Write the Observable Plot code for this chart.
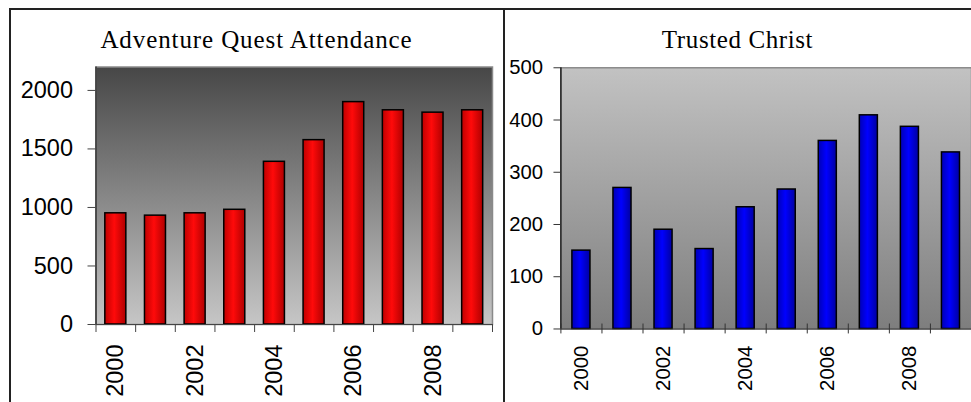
<!DOCTYPE html>
<html>
<head>
<meta charset="utf-8">
<script src="https://cdn.jsdelivr.net/npm/d3@7"></script>
<script src="https://cdn.jsdelivr.net/npm/@observablehq/plot@0.6"></script>
<style>
  body { margin: 0; background: #fff; }
  #wrap { position: relative; width: 971px; height: 402px; overflow: hidden; background: #fff; }
  .title { position: absolute; top: 27px; height: 25px; line-height: 25px; font-family: "Liberation Serif", "Times New Roman", serif; font-size: 25px; letter-spacing: 0.6px; color: #000; text-align: center; white-space: nowrap; }
  .panel { position: absolute; top: 0; }
  .line { position: absolute; background: #222; }
</style>
</head>
<body>
<div id="wrap">
  <div id="left" class="panel" style="left:0"></div>
  <div id="right" class="panel" style="left:504px"></div>
  <div class="title" style="left:10px;width:493px;letter-spacing:0.9px">Adventure Quest Attendance</div>
  <div class="title" style="left:504px;width:467px">Trusted Christ</div>
  <div class="line" style="left:10px;top:8px;width:961px;height:2px"></div>
  <div class="line" style="left:9px;top:8px;width:2px;height:394px"></div>
  <div class="line" style="left:503px;top:8px;width:1.5px;height:394px"></div>
</div>
<script>
const years = [2000, 2001, 2002, 2003, 2004, 2005, 2006, 2007, 2008, 2009];
const attendance = [950, 930, 950, 980, 1390, 1575, 1900, 1830, 1810, 1830];
const trusted = [150, 270, 190, 153, 233, 267, 360, 409, 387, 338];
const attendanceTicks = [0, 500, 1000, 1500, 2000];
const trustedTicks = [0, 100, 200, 300, 400, 500];
const yearLabels = [2000, 2002, 2004, 2006, 2008];

const bounds = years.map(y => y - 0.5).concat([years[years.length - 1] + 0.5]);
const attData = years.map((year, i) => ({year, value: attendance[i]}));
const trData = years.map((year, i) => ({year, value: trusted[i]}));

const SVGNS = "http://www.w3.org/2000/svg";
function addGradient(svg, id, vertical, stops) {
  let defs = svg.querySelector("defs");
  if (!defs) { defs = document.createElementNS(SVGNS, "defs"); svg.insertBefore(defs, svg.firstChild); }
  const g = document.createElementNS(SVGNS, "linearGradient");
  g.setAttribute("id", id);
  g.setAttribute("x1", "0"); g.setAttribute("y1", "0");
  g.setAttribute("x2", vertical ? "0" : "1"); g.setAttribute("y2", vertical ? "1" : "0");
  for (const [o, c] of stops) {
    const s = document.createElementNS(SVGNS, "stop");
    s.setAttribute("offset", o); s.setAttribute("stop-color", c);
    g.appendChild(s);
  }
  defs.appendChild(g);
}

const fmt = d => String(d);

const left = Plot.plot({
  width: 503, height: 402,
  marginLeft: 95.5, marginRight: 11, marginTop: 66.5, marginBottom: 78,
  x: {type: "linear", domain: [bounds[0], bounds[bounds.length - 1]], axis: null, label: null},
  y: {domain: [0, 2200], axis: null, label: null},
  style: {fontFamily: "'Liberation Sans', Arial, sans-serif", fontSize: "23.5px", background: "transparent", color: "#000", overflow: "visible"},
  marks: [
    Plot.frame({fill: "url(#gradL)", stroke: "#8a8a8a", strokeWidth: 1.5}),
    Plot.rectY(attData, {x1: d => d.year - 0.265, x2: d => d.year + 0.265, y: "value", fill: "url(#barRed)", stroke: "#000", strokeWidth: 1.5}),
    Plot.ruleY([0], {stroke: "#444", strokeWidth: 1.2}),
    Plot.ruleX([bounds[0]], {stroke: "#333", strokeWidth: 1.5}),
    Plot.axisY(attendanceTicks, {tickSize: 8, tickPadding: 15, stroke: "#444", fill: "#000", tickFormat: fmt, label: null}),
    Plot.axisX(bounds, {tickSize: 8, tickFormat: () => "", stroke: "#444", label: null}),
    Plot.axisX(yearLabels, {tickSize: 0, tickPadding: 20, tickRotate: -90, tickFormat: fmt, fill: "#000", label: null})
  ]
});
addGradient(left, "gradL", true, [[0, "#474747"], [1, "#c6c6c6"]]);
addGradient(left, "barRed", false, [[0, "#c00000"], [0.45, "#ff0a0a"], [1, "#b00000"]]);
document.getElementById("left").appendChild(left);

const right = Plot.plot({
  width: 472, height: 402,
  marginLeft: 57, marginRight: 0, marginTop: 68, marginBottom: 70,
  x: {type: "linear", domain: [bounds[0], bounds[bounds.length - 1]], axis: null, label: null},
  y: {domain: [0, 500], axis: null, label: null},
  style: {fontFamily: "'Liberation Sans', Arial, sans-serif", fontSize: "20.5px", background: "transparent", color: "#000", overflow: "visible"},
  marks: [
    Plot.frame({fill: "url(#gradR)", stroke: "#8a8a8a", strokeWidth: 1.5}),
    Plot.rectY(trData, {x1: d => d.year - 0.22, x2: d => d.year + 0.22, y: "value", fill: "url(#barBlue)", stroke: "#000", strokeWidth: 1.5}),
    Plot.ruleY([0], {stroke: "#333", strokeWidth: 1.2}),
    Plot.ruleX([bounds[0]], {stroke: "#222", strokeWidth: 1.5}),
    Plot.axisY(trustedTicks, {tickSize: 7, tickPadding: 11, stroke: "#333", fill: "#000", tickFormat: fmt, label: null}),
    Plot.axisX(bounds, {tickSize: 10, dy: -5, tickFormat: () => "", stroke: "#333", label: null}),
    Plot.axisX(yearLabels, {tickSize: 0, tickPadding: 17, tickRotate: -90, tickFormat: fmt, fill: "#000", label: null})
  ]
});
addGradient(right, "gradR", true, [[0, "#c2c2c2"], [1, "#7e7e7e"]]);
addGradient(right, "barBlue", false, [[0, "#0000b4"], [0.45, "#0000ff"], [1, "#0000a0"]]);
document.getElementById("right").appendChild(right);
</script>
</body>
</html>
